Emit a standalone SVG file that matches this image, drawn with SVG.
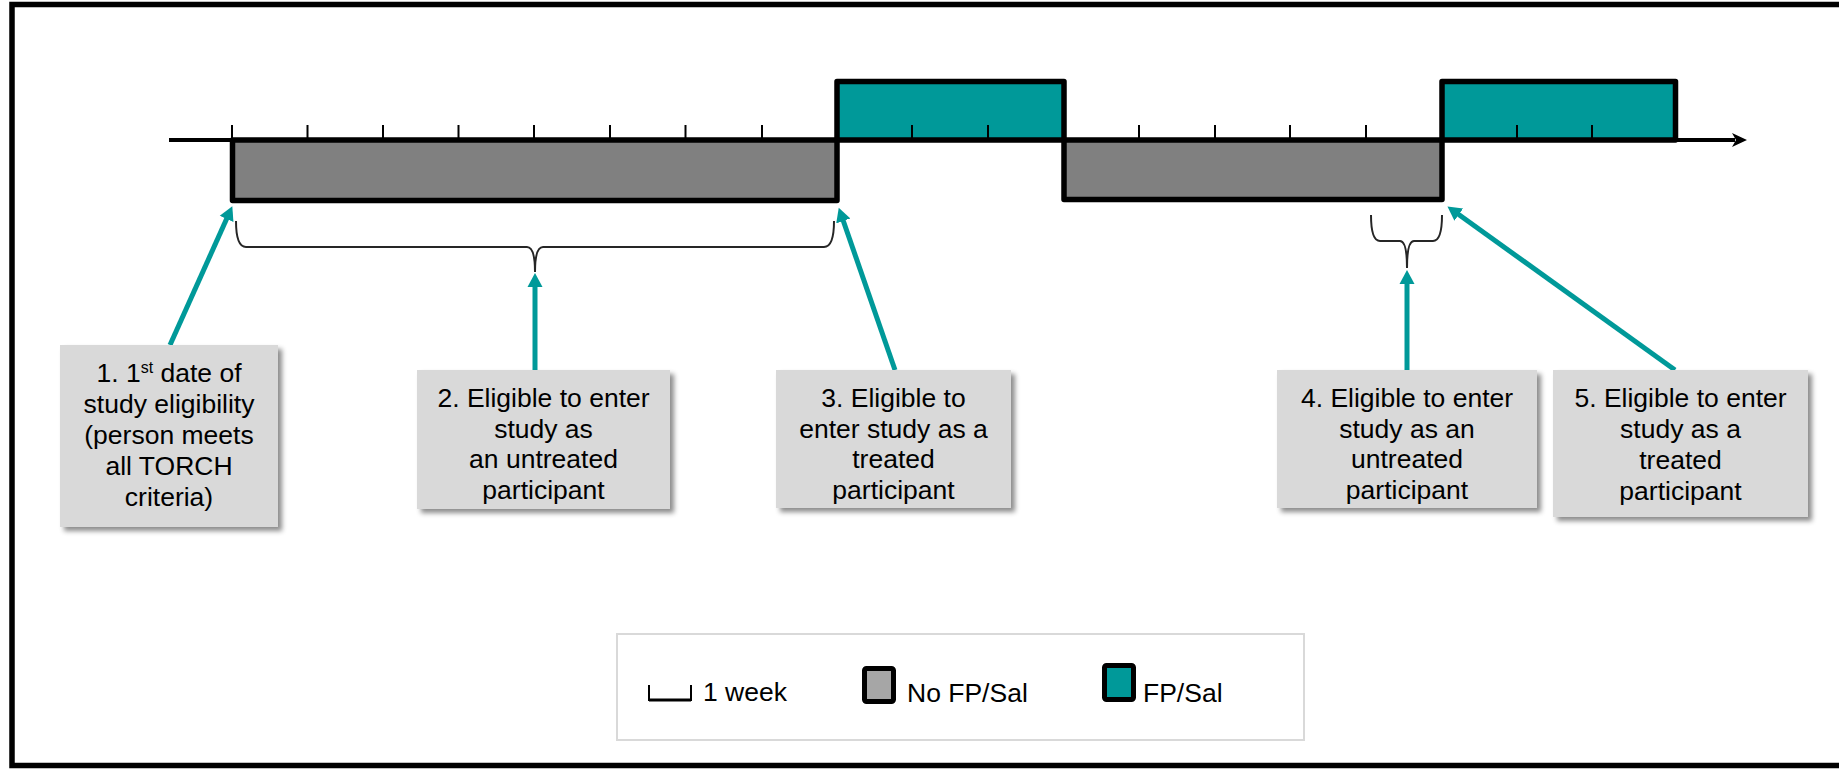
<svg xmlns="http://www.w3.org/2000/svg" width="1839" height="769" viewBox="0 0 1839 769">
  <defs>
    <style>
      .lbl { font-family: "Liberation Sans", Arial, sans-serif; font-size: 26.5px; fill: #000; text-anchor: middle; }
      .leg { font-family: "Liberation Sans", Arial, sans-serif; font-size: 26.5px; fill: #000; }
      .box { fill: #d9d9d9; filter: url(#shadow); }
      .nofp { fill: #808080; stroke: #000; stroke-width: 5.5; stroke-linejoin: round; }
      .fp { fill: #009999; stroke: #000; stroke-width: 5.5; stroke-linejoin: round; }
      .tick { stroke: #000; stroke-width: 2; }
      .ptr { stroke: #009999; stroke-width: 5; fill: none; marker-end: url(#tealHead); }
      .brace { stroke: #262626; stroke-width: 2; fill: none; }
    </style>
    <filter id="shadow" x="-10%" y="-10%" width="130%" height="130%">
      <feGaussianBlur in="SourceAlpha" stdDeviation="2.5"/>
      <feOffset dx="4" dy="4" result="blur"/>
      <feFlood flood-color="#000" flood-opacity="0.45"/>
      <feComposite in2="blur" operator="in"/>
      <feMerge>
        <feMergeNode/>
        <feMergeNode in="SourceGraphic"/>
      </feMerge>
    </filter>
    <marker id="tealHead" markerUnits="userSpaceOnUse" markerWidth="16" markerHeight="18" refX="1" refY="8" orient="auto">
      <path d="M0,0.5 L14,8 L0,15.5 z" fill="#009999"/>
    </marker>
    <marker id="axisHead" markerUnits="userSpaceOnUse" markerWidth="18" markerHeight="18" refX="3" refY="8" orient="auto">
      <path d="M0,1 L15,8 L0,15 L4,8 z" fill="#000"/>
    </marker>
  </defs>

  <!-- outer frame -->
  <rect x="12" y="4.5" width="1900" height="761" fill="#fff" stroke="#000" stroke-width="5.5"/>

  <!-- timeline: treatment periods, week ticks and time axis -->
  <g id="timeline">
    <rect class="nofp" x="232.5" y="140" width="604.5" height="60.5"/>
    <rect class="fp" x="837" y="81.5" width="227" height="58.5"/>
    <rect class="nofp" x="1064" y="140" width="378" height="59.5"/>
    <rect class="fp" x="1442" y="81.5" width="233.5" height="58.5"/>
    <g class="tick">
      <line x1="232" y1="125" x2="232" y2="139"/>
      <line x1="307.5" y1="125" x2="307.5" y2="139"/>
      <line x1="383" y1="125" x2="383" y2="139"/>
      <line x1="458.5" y1="125" x2="458.5" y2="139"/>
      <line x1="534" y1="125" x2="534" y2="139"/>
      <line x1="610" y1="125" x2="610" y2="139"/>
      <line x1="685.5" y1="125" x2="685.5" y2="139"/>
      <line x1="762" y1="125" x2="762" y2="139"/>
      <line x1="912" y1="125" x2="912" y2="139"/>
      <line x1="988" y1="125" x2="988" y2="139"/>
      <line x1="1139" y1="125" x2="1139" y2="139"/>
      <line x1="1215" y1="125" x2="1215" y2="139"/>
      <line x1="1290" y1="125" x2="1290" y2="139"/>
      <line x1="1366" y1="125" x2="1366" y2="139"/>
      <line x1="1517" y1="125" x2="1517" y2="139"/>
      <line x1="1592" y1="125" x2="1592" y2="139"/>
    </g>
    <line x1="169" y1="140" x2="1735" y2="140" stroke="#000" stroke-width="4" marker-end="url(#axisHead)"/>
  </g>

  <!-- pointers and braces -->
  <g id="connectors">
    <path class="brace" d="M236,221 Q236,247 246,247 H527 Q535,247 535,272 Q535,247 543,247 H824 Q834,247 834,221"/>
    <path class="brace" d="M1371,215 Q1371,241 1380,241 H1400 Q1407,241 1407,268 Q1407,241 1414,241 H1433 Q1442,241 1442,215"/>
    <line class="ptr" x1="170" y1="345" x2="227" y2="218"/>
    <line class="ptr" x1="535" y1="370" x2="535" y2="286"/>
    <line class="ptr" x1="895" y1="370" x2="843" y2="220"/>
    <line class="ptr" x1="1407" y1="370" x2="1407" y2="283"/>
    <line class="ptr" x1="1675" y1="370" x2="1458" y2="214"/>
  </g>

  <g id="node1">
    <rect class="box" x="60" y="345" width="218" height="182"/>
    <text class="lbl" x="169" y="382">1. 1<tspan font-size="16" dy="-9">st</tspan><tspan dy="9"> date of</tspan></text>
    <text class="lbl" x="169" y="413">study eligibility</text>
    <text class="lbl" x="169" y="444">(person meets</text>
    <text class="lbl" x="169" y="475">all TORCH</text>
    <text class="lbl" x="169" y="506">criteria)</text>
  </g>

  <g id="node2">
    <rect class="box" x="417" y="370" width="253" height="139"/>
    <text class="lbl" x="543.5" y="407">2. Eligible to enter</text>
    <text class="lbl" x="543.5" y="437.5">study as </text>
    <text class="lbl" x="543.5" y="468">an untreated</text>
    <text class="lbl" x="543.5" y="498.5">participant</text>
  </g>

  <g id="node3">
    <rect class="box" x="776" y="370" width="235" height="138"/>
    <text class="lbl" x="893.5" y="407">3. Eligible to</text>
    <text class="lbl" x="893.5" y="437.5">enter study as a</text>
    <text class="lbl" x="893.5" y="468">treated</text>
    <text class="lbl" x="893.5" y="498.5">participant</text>
  </g>

  <g id="node4">
    <rect class="box" x="1277" y="370" width="260" height="138"/>
    <text class="lbl" x="1407" y="407">4. Eligible to enter</text>
    <text class="lbl" x="1407" y="437.5">study as an</text>
    <text class="lbl" x="1407" y="468">untreated</text>
    <text class="lbl" x="1407" y="498.5">participant</text>
  </g>

  <g id="node5">
    <rect class="box" x="1553" y="370" width="255" height="147"/>
    <text class="lbl" x="1680.5" y="407">5. Eligible to enter</text>
    <text class="lbl" x="1680.5" y="438">study as a </text>
    <text class="lbl" x="1680.5" y="469">treated</text>
    <text class="lbl" x="1680.5" y="500">participant</text>
  </g>

  <g id="legend">
    <rect x="617" y="634" width="687" height="106" fill="#fff" stroke="#d9d9d9" stroke-width="2"/>
    <path d="M649,685 V700 H691 V685" fill="none" stroke="#000" stroke-width="2"/>
    <line x1="649" y1="700" x2="691" y2="700" stroke="#000" stroke-width="3"/>
    <text class="leg" x="703" y="701">1 week</text>
    <rect x="864.5" y="668.5" width="29" height="33" rx="2" fill="#a6a6a6" stroke="#000" stroke-width="5"/>
    <text class="leg" x="907" y="702">No FP/Sal</text>
    <rect x="1104.5" y="665.5" width="29" height="34" rx="2" fill="#009999" stroke="#000" stroke-width="5"/>
    <text class="leg" x="1143" y="702">FP/Sal</text>
  </g>
</svg>
